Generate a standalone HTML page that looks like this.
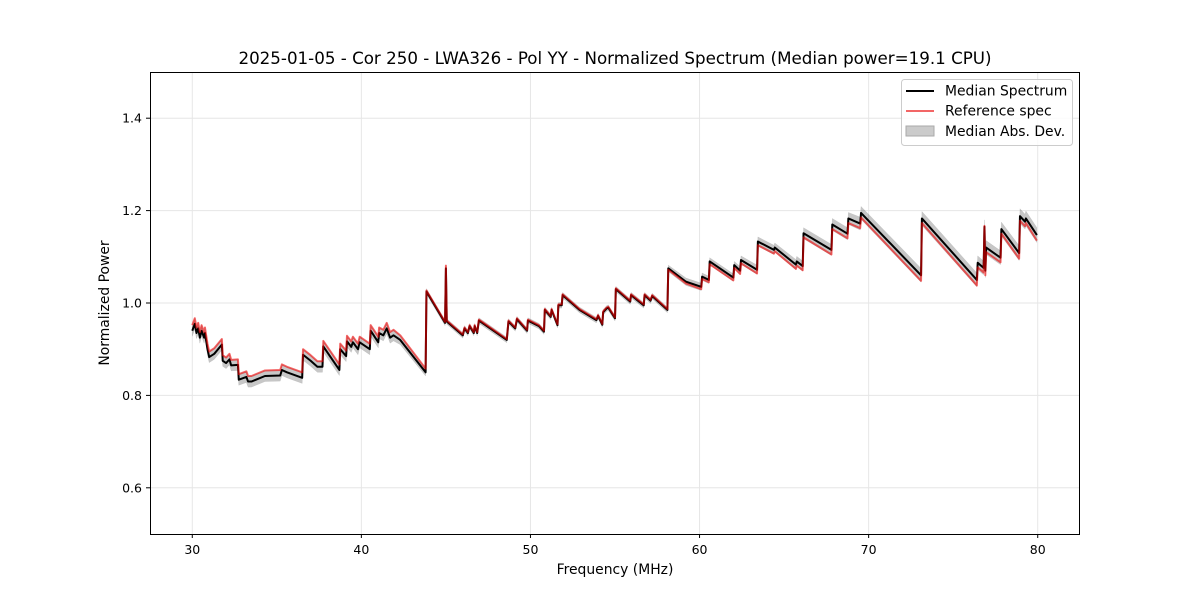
<!DOCTYPE html>
<html><head><meta charset="utf-8"><style>
body{margin:0;background:#fff;}
svg text{font-family:"DejaVu Sans","Liberation Sans",sans-serif;fill:#000;}
</style></head><body>
<svg id="chart" width="1200" height="600" viewBox="0 0 1200 600">
<rect x="0" y="0" width="1200" height="600" fill="#fff"/>
<g id="grid"></g>
<g id="plot"></g>
<rect x="150.5" y="72.5" width="929" height="462" fill="none" stroke="#000" stroke-width="1"/>
<g id="ticks"></g>
<text x="615" y="64" font-size="16.7" text-anchor="middle">2025-01-05 - Cor 250 - LWA326 - Pol YY - Normalized Spectrum (Median power=19.1 CPU)</text>
<text x="615" y="574" font-size="13.9" text-anchor="middle">Frequency (MHz)</text>
<text x="109" y="303" font-size="13.9" text-anchor="middle" transform="rotate(-90 109 303)">Normalized Power</text>
<g>
<rect x="901.5" y="79.5" width="171" height="66" rx="3" fill="#fff" fill-opacity="0.8" stroke="#ccc"/>
<g><line x1="906" y1="91" x2="934" y2="91" stroke="#000" stroke-width="2"/><text x="945" y="95.5" font-size="13.9">Median Spectrum</text></g>
<g><line x1="906" y1="111" x2="934" y2="111" stroke="#e33" stroke-opacity="0.75" stroke-width="2"/><text x="945" y="115.5" font-size="13.9">Reference spec</text></g>
<g><rect x="906" y="126" width="28" height="10" fill="#cbcbcb" stroke="#aaa"/><text x="945" y="136" font-size="13.9">Median Abs. Dev.</text></g>
</g>
</svg>
<script>
const freq=[30.0,30.15,30.25,30.35,30.45,30.55,30.7,30.75,30.9,31.0,31.3,31.75,31.8,32.0,32.2,32.3,32.7,32.75,33.2,33.3,33.5,34.3,35.2,35.3,35.6,36.5,36.55,37.0,37.4,37.7,37.75,38.7,38.75,39.1,39.15,39.4,39.5,39.8,39.9,40.5,40.55,41.0,41.05,41.3,41.5,41.7,41.9,42.3,43.8,
43.85,44.95,45.0,45.05,46.0,46.1,46.3,46.4,46.65,46.7,46.85,46.95,48.6,48.7,49.1,49.2,49.8,49.85,50.5,50.8,50.85,51.2,51.25,51.6,51.65,51.85,51.9,52.9,53.9,54.0,54.25,54.3,54.5,54.6,55.0,55.05,55.9,55.95,56.7,56.75,57.1,57.2,58.1,
58.15,59.2,60.1,60.15,60.55,60.6,62.0,62.05,62.4,62.45,63.4,63.45,64.4,64.45,65.7,65.75,66.1,66.15,67.8,67.85,68.75,68.8,69.5,69.55,73.1,73.15,76.4,76.45,76.8,76.85,76.9,76.95,77.8,77.85,78.9,78.95,79.25,79.3,79.95];
const median=[0.940,0.955,0.935,0.945,0.925,0.940,0.925,0.935,0.900,0.883,0.890,0.910,0.875,0.870,0.878,0.865,0.866,0.834,0.840,0.830,0.830,0.842,0.843,0.855,0.850,0.838,0.888,0.875,0.862,0.862,0.906,0.855,0.900,0.885,0.917,0.905,0.915,0.900,0.915,0.900,0.940,0.915,0.935,0.930,0.945,0.925,0.930,0.920,0.850,
1.025,0.957,1.075,0.960,0.930,0.945,0.935,0.950,0.935,0.950,0.935,0.962,0.920,0.960,0.945,0.965,0.940,0.962,0.950,0.938,0.985,0.970,0.985,0.952,0.995,0.995,1.017,0.985,0.963,0.972,0.953,0.980,0.988,0.990,0.967,1.030,1.003,1.017,0.995,1.017,1.005,1.015,0.985,
1.075,1.046,1.035,1.057,1.050,1.090,1.055,1.082,1.070,1.093,1.072,1.133,1.115,1.120,1.083,1.090,1.080,1.151,1.115,1.170,1.150,1.183,1.172,1.195,1.060,1.183,1.050,1.087,1.076,1.165,1.070,1.120,1.098,1.160,1.108,1.188,1.176,1.183,1.147];
const refDelta=[0.012,0.012,0.012,0.012,0.012,0.012,0.012,0.012,0.012,0.012,0.012,0.012,0.012,0.012,0.012,0.012,0.012,0.012,0.012,0.012,0.012,0.012,0.012,0.012,0.012,0.012,0.012,0.012,0.012,0.012,0.012,0.012,0.012,0.012,0.012,0.012,0.012,0.012,0.012,0.012,0.012,0.012,0.012,0.012,0.012,0.012,0.012,0.010,0.008,
0.002,0.002,0.006,0.002,0.002,0.002,0.002,0.002,0.002,0.002,0.002,0.002,0.002,0.002,0.002,0.002,0.002,0.002,0.002,0.002,0.002,0.002,0.002,0.002,0.002,0.002,0.002,0.002,0.002,0.002,0.002,0.002,0.002,0.002,0.002,0.002,0.002,0.002,0.002,0.002,0.002,0.002,0.002,
-0.003,-0.004,-0.005,-0.005,-0.005,-0.006,-0.006,-0.006,-0.007,-0.007,-0.008,-0.008,-0.008,-0.008,-0.009,-0.009,-0.009,-0.009,-0.010,-0.010,-0.010,-0.010,-0.010,-0.010,-0.012,-0.010,-0.012,-0.010,-0.010,0.002,-0.010,-0.010,-0.010,-0.010,-0.012,-0.010,-0.010,-0.010,-0.012];
const mad=[0.012,0.012,0.012,0.012,0.012,0.012,0.012,0.012,0.012,0.012,0.012,0.012,0.012,0.012,0.012,0.012,0.012,0.012,0.012,0.012,0.012,0.012,0.012,0.012,0.012,0.012,0.012,0.012,0.012,0.012,0.012,0.012,0.012,0.012,0.012,0.012,0.012,0.012,0.012,0.012,0.012,0.012,0.012,0.012,0.012,0.012,0.012,0.010,0.008,
0.006,0.006,0.006,0.006,0.006,0.006,0.006,0.006,0.006,0.006,0.006,0.006,0.006,0.006,0.006,0.006,0.006,0.006,0.006,0.006,0.006,0.006,0.006,0.006,0.006,0.006,0.006,0.006,0.006,0.006,0.006,0.006,0.006,0.006,0.006,0.006,0.006,0.006,0.006,0.006,0.006,0.006,0.006,
0.007,0.008,0.008,0.008,0.008,0.008,0.008,0.008,0.009,0.009,0.010,0.010,0.010,0.010,0.011,0.011,0.011,0.012,0.012,0.013,0.013,0.013,0.014,0.014,0.015,0.015,0.015,0.015,0.015,0.015,0.015,0.015,0.015,0.015,0.016,0.016,0.016,0.016,0.016];
const xTicks=[30,40,50,60,70,80];
const yTicks=[0.6,0.8,1.0,1.2,1.4];
const yTickLabels=["0.6","0.8","1.0","1.2","1.4"];

const X0=150,X1=1080,Y0=534,Y1=72,xmin=27.5,xmax=82.5,ymin=0.5,ymax=1.5;
function xs(v){return X0+(v-xmin)/(xmax-xmin)*(X1-X0);}
function ys(v){return Y0-(v-ymin)/(ymax-ymin)*(Y0-Y1);}
const NS="http://www.w3.org/2000/svg";
const grid=document.getElementById('grid'),ticks=document.getElementById('ticks'),plot=document.getElementById('plot');
function mk(t,a,p){const e=document.createElementNS(NS,t);for(const k in a)e.setAttribute(k,a[k]);p.appendChild(e);return e;}
xTicks.forEach(v=>{
 const x=xs(v);
 const g=mk('line',{x1:x,x2:x,y1:Y1,y2:Y0,stroke:'#e6e6e6','stroke-width':1},grid);
 
 
 const t=mk('line',{x1:x,x2:x,y1:Y0,y2:Y0+4,stroke:'#000'},ticks);
 
 
 const l=mk('text',{x:x,y:Y0+20,'font-size':12.5,'text-anchor':'middle'},ticks);l.textContent=v;
 
 
});
yTicks.forEach((v,i)=>{
 const y=ys(v);
 const g=mk('line',{x1:X0,x2:X1,y1:y,y2:y,stroke:'#e6e6e6','stroke-width':1},grid);
 
 
 const t=mk('line',{x1:X0-4,x2:X0,y1:y,y2:y,stroke:'#000'},ticks);
 
 
 const l=mk('text',{x:X0-8,y:y+4.5,'font-size':12.5,'text-anchor':'end'},ticks);l.textContent=yTickLabels[i];
 
 
});
let up=[],dn=[];
freq.forEach((f,i)=>{up.push(xs(f)+','+ys(median[i]+mad[i]));dn.unshift(xs(f)+','+ys(median[i]-mad[i]));});
const band=mk('polygon',{points:up.concat(dn).join(' '),fill:'#000','fill-opacity':0.22,stroke:'#888','stroke-opacity':0.3,'stroke-width':0.5},plot);


const mp=mk('polyline',{points:freq.map((f,i)=>xs(f)+','+ys(median[i])).join(' '),fill:'none',stroke:'#000','stroke-width':2,'stroke-linejoin':'round'},plot);


const rp=mk('polyline',{points:freq.map((f,i)=>xs(f)+','+ys(median[i]+refDelta[i])).join(' '),fill:'none',stroke:'#e00','stroke-opacity':0.6,'stroke-width':2,'stroke-linejoin':'round'},plot);


</script>
</body></html>
